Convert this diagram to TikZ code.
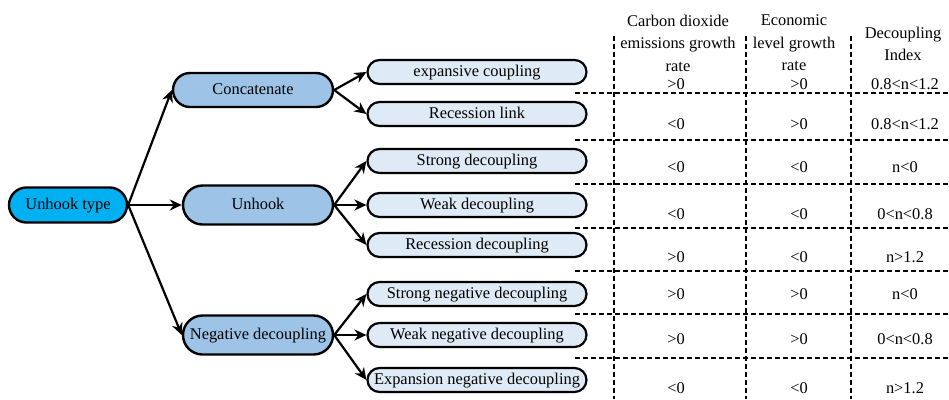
\documentclass[tikz,border=0pt]{standalone}
\usepackage{fontspec}
\setmainfont{Liberation Serif}
\usepackage{xcolor}
\usepackage{tikz}
\usetikzlibrary{arrows.meta, shapes.misc}
\definecolor{typeblue}{HTML}{00B0F0}
\definecolor{classblue}{HTML}{9DC3E6}
\definecolor{leafblue}{HTML}{DEEBF7}

\begin{document}
\begin{tikzpicture}[
    x=1pt, y=-1pt,
    font=\fontsize{16.4}{22.5}\selectfont,
    typebox/.style={rounded rectangle, draw=black, fill=typeblue, line width=2.4pt, minimum width=118pt, minimum height=35pt, inner sep=0pt, text height=12pt, text depth=3pt},
    classbox/.style={rounded rectangle, draw=black, fill=classblue, line width=2.4pt, minimum width=150pt, minimum height=39pt, inner sep=0pt, text height=12pt, text depth=3pt},
    leafbox/.style={rounded rectangle, draw=black, fill=leafblue, line width=2.2pt, minimum width=219pt, minimum height=24pt, inner sep=0pt, text height=12pt, text depth=3pt},
    headtext/.style={align=center, inner sep=0pt},
    celltext/.style={inner sep=0pt, text height=12pt, text depth=3pt},
    arrow/.style={-{Stealth[length=12pt, width=11pt]}, line width=2.2pt},
    tableline/.style={dash pattern=on 5pt off 3pt, line width=2.2pt}
]
    \useasboundingbox (0,0) rectangle (949,399);

    \node [typebox] (type) at (68,205) {Unhook type};
    \node [classbox, minimum width=160pt, minimum height=34pt] (concat) at (253,90) {Concatenate};
    \node [classbox] (unhook) at (258,205) {Unhook};
    \node [classbox] (negdec) at (258,335) {Negative decoupling};

    \foreach \name/\y/\txt in {expc/72/expansive coupling, recl/114/Recession link, strd/161/Strong decoupling, weakd/205/Weak decoupling, recd/245/Recession decoupling, strn/294/Strong negative decoupling, weakn/335/Weak negative decoupling, expn/380/Expansion negative decoupling}
        \node [leafbox] (\name) at (477,\y) {\txt};

    \foreach \b in {concat, unhook, negdec}
        \draw [arrow] (type.east) -- (\b.west);
    \foreach \a/\b in {concat/expc, concat/recl, unhook/strd, unhook/weakd, unhook/recd, negdec/strn, negdec/weakn, negdec/expn}
        \draw [arrow] (\a.east) -- (\b.west);

    \foreach \x in {614, 746, 851}
        \draw [tableline] (\x,36) -- (\x,399);
    \foreach \y in {93, 140, 184, 228, 271, 314, 358}
        \draw [tableline] (575,\y) -- (949,\y);

    \node [headtext] (co2) at (678,43) {Carbon dioxide\\emissions growth\\rate};
    \node [headtext] (gdp) at (794,43) {Economic\\level growth\\rate};
    \node [headtext] (index) at (903,44) {Decoupling\\Index};

    \foreach \y/\a/\b/\c [count=\i] in {85/>0/>0/0.8<n<1.2, 125/<0/>0/0.8<n<1.2, 168/<0/<0/n<0, 215/<0/<0/0<n<0.8, 258/>0/<0/n>1.2, 295/>0/>0/n<0, 340/>0/>0/0<n<0.8, 389/<0/<0/n>1.2} {
        \node [celltext] (co2\i) at (676,\y) {\a};
        \node [celltext] (gdp\i) at (799,\y) {\b};
        \node [celltext] (index\i) at (905,\y) {\c};
    }
\end{tikzpicture}
\end{document}
